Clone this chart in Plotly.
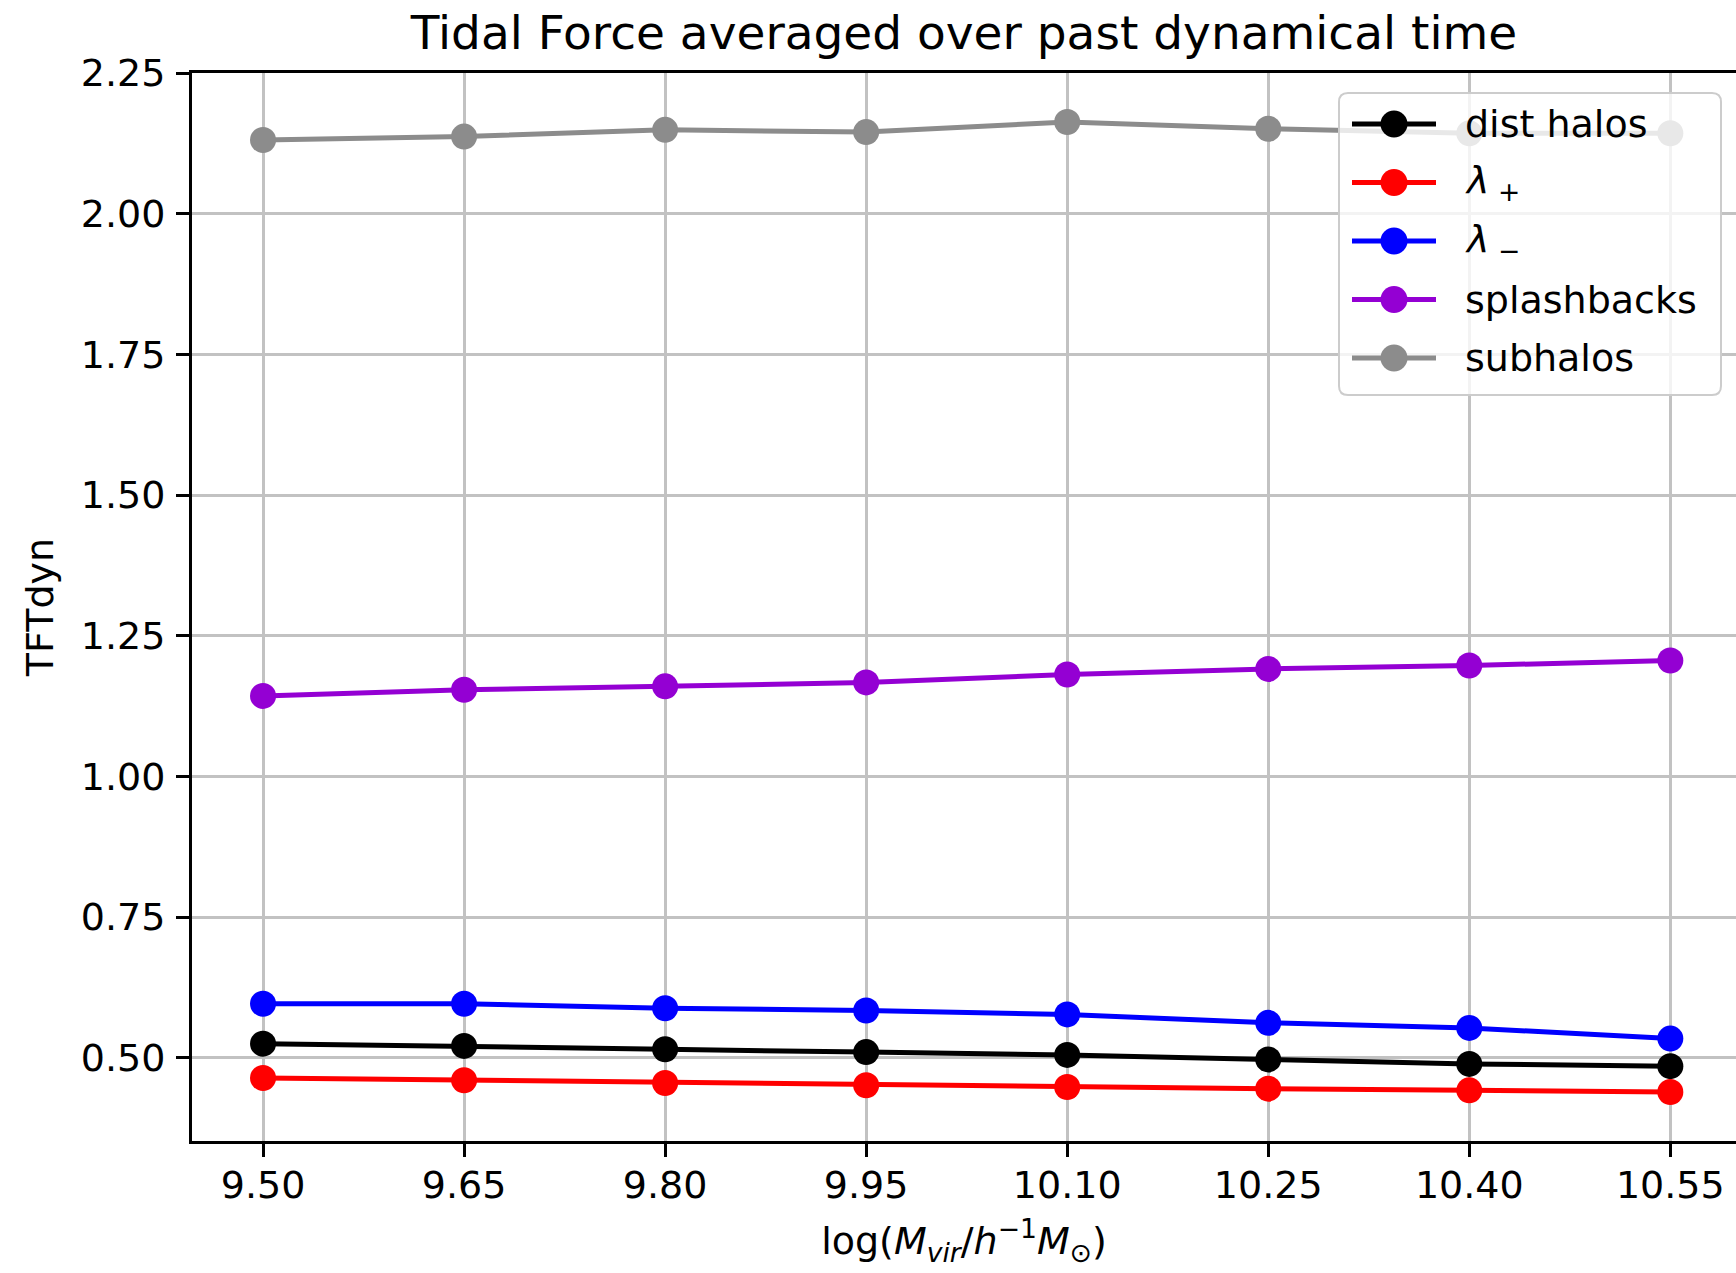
import plotly.graph_objects as go

# ---- data ----
mass_bins = [9.50, 9.65, 9.80, 9.95, 10.10, 10.25, 10.40, 10.55]
tick_labels = ["9.50", "9.65", "9.80", "9.95", "10.10", "10.25", "10.40", "10.55"]

dist_halos = [0.525, 0.521, 0.515, 0.510, 0.505, 0.497, 0.489, 0.485]
lambda_plus = [0.464, 0.460, 0.455, 0.451, 0.448, 0.445, 0.442, 0.439]
lambda_minus = [0.596, 0.596, 0.588, 0.584, 0.577, 0.562, 0.553, 0.534]
splashbacks = [1.143, 1.154, 1.160, 1.167, 1.181, 1.191, 1.197, 1.206]
subhalos = [2.131, 2.137, 2.149, 2.145, 2.163, 2.151, 2.143, 2.143]

series_names = ["dist halos", "<i>λ</i><sub> +</sub>", "<i>λ</i><sub> −</sub>", "splashbacks", "subhalos"]
series_values = [dist_halos, lambda_plus, lambda_minus, splashbacks, subhalos]
series_colors = ["#000000", "#ff0000", "#0000ff", "#9400d3", "#8c8c8c"]

y_ticks = [0.50, 0.75, 1.00, 1.25, 1.50, 1.75, 2.00, 2.25]
y_tick_labels = ["0.50", "0.75", "1.00", "1.25", "1.50", "1.75", "2.00", "2.25"]

FONT = "DejaVu Sans"
W, H = 1736, 1273
ML, MR, MT, MB = 192, 0, 73, 132
PW, PH = W - ML - MR, H - MT - MB


def px_x(px):
    return (px - ML) / PW


def px_y(py):
    return (H - MB - py) / PH


fig = go.Figure()
for name, vals, col in zip(series_names, series_values, series_colors):
    fig.add_trace(go.Scatter(
        x=mass_bins, y=vals, name=name, mode="lines+markers",
        line=dict(color=col, width=5),
        marker=dict(color=col, size=26),
        cliponaxis=False, showlegend=False,
    ))

# ---- legend (matplotlib-style, drawn as overlay) ----
LEG_L, LEG_R, LEG_T, LEG_B = 1339, 1721, 93, 395
ENTRY_Y0, ENTRY_DY = 124, 58.5
LINE_X0, LINE_X1, TEXT_X = 1352, 1436, 1463
r = 9
x0, x1 = px_x(LEG_L), px_x(LEG_R)
y0, y1 = px_y(LEG_B), px_y(LEG_T)
rx, ry = r / PW, r / PH
path = (f"M{x0+rx},{y1} L{x1-rx},{y1} Q{x1},{y1} {x1},{y1-ry} "
        f"L{x1},{y0+ry} Q{x1},{y0} {x1-rx},{y0} L{x0+rx},{y0} "
        f"Q{x0},{y0} {x0},{y0+ry} L{x0},{y1-ry} Q{x0},{y1} {x0+rx},{y1} Z")
shapes = [dict(type="path", path=path, xref="paper", yref="paper",
               fillcolor="rgba(255,255,255,0.8)", line=dict(color="#cccccc", width=2),
               layer="above")]
annotations = []
for i, (name, col) in enumerate(zip(series_names, series_colors)):
    yy = px_y(ENTRY_Y0 + i * ENTRY_DY)
    shapes.append(dict(type="line", xref="paper", yref="paper",
                       x0=px_x(LINE_X0), x1=px_x(LINE_X1), y0=yy, y1=yy,
                       line=dict(color=col, width=5), layer="above"))
    shapes.append(dict(type="circle", xref="paper", yref="paper",
                       xsizemode="pixel", ysizemode="pixel",
                       xanchor=px_x((LINE_X0 + LINE_X1) / 2), yanchor=yy,
                       x0=-13.5, x1=13.5, y0=-13.5, y1=13.5,
                       fillcolor=col, line=dict(width=0), layer="above"))
    annotations.append(dict(text=name, xref="paper", yref="paper",
                            x=px_x(TEXT_X), y=yy, xanchor="left", yanchor="middle",
                            showarrow=False, font=dict(family=FONT, size=38, color="black")))

fig.update_layout(
    width=W, height=H,
    margin=dict(l=ML, r=MR, t=MT, b=MB),
    paper_bgcolor="white", plot_bgcolor="white",
    font=dict(family=FONT, size=38, color="black"),
    title=dict(text="Tidal Force averaged over past dynamical time",
               x=0.5, xref="paper", xanchor="center",
               y=1 - 33 / H, yref="container", yanchor="middle",
               font=dict(family=FONT, size=47, color="black")),
    shapes=shapes, annotations=annotations,
    showlegend=False,
)

fig.update_xaxes(
    range=[9.447, 10.599], tickmode="array", tickvals=mass_bins, ticktext=tick_labels,
    showgrid=True, gridcolor="#c2c2c2", gridwidth=3,
    showline=True, linecolor="black", linewidth=3, mirror=True,
    ticks="outside", ticklen=13, tickwidth=3, tickcolor="black",
    ticklabelstandoff=-5, zeroline=False,
    tickfont=dict(family=FONT, size=38),
    title=dict(text="log(<i>M</i><sub><i>vir</i></sub>/<i>h</i><sup>−1</sup><i>M</i><sub>⊙</sub>)",
               font=dict(family=FONT, size=38), standoff=22),
)
fig.update_yaxes(
    range=[0.352, 2.25], tickmode="array", tickvals=y_ticks, ticktext=y_tick_labels,
    showgrid=True, gridcolor="#c2c2c2", gridwidth=3,
    showline=True, linecolor="black", linewidth=3, mirror=False,
    ticks="outside", ticklen=13, tickwidth=3, tickcolor="black",
    ticklabelstandoff=3, zeroline=False,
    tickfont=dict(family=FONT, size=38),
    title=dict(text="TFTdyn", font=dict(family=FONT, size=38), standoff=16),
)

fig.write_html("out.html")
